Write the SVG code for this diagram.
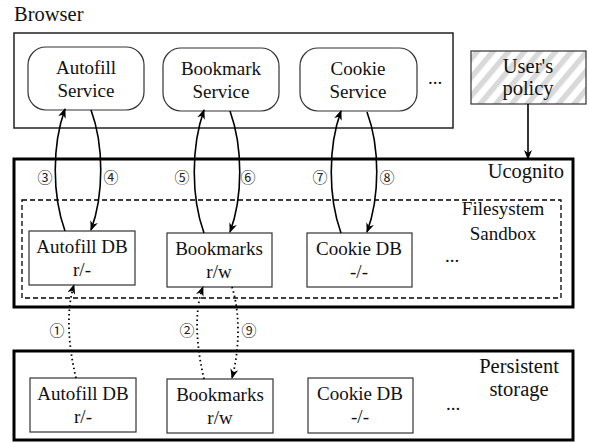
<svg xmlns="http://www.w3.org/2000/svg" width="589" height="443" viewBox="0 0 589 443">
<defs>
<pattern id="hatch" patternUnits="userSpaceOnUse" width="12" height="12" patternTransform="rotate(40)">
<rect x="0" y="0" width="12" height="12" fill="#ffffff"/>
<rect x="0" y="0" width="5.5" height="12" fill="#d9d9d9"/>
</pattern>
<marker id="ah" viewBox="0 0 10 10" refX="9" refY="5" markerWidth="10" markerHeight="10" markerUnits="userSpaceOnUse" orient="auto">
<path d="M0,1 L10,5 L0,9 L3,5 Z" fill="#000"/>
</marker>
</defs>
<style>
text{fill:#111;font-family:"Liberation Serif","Times New Roman",serif;}
.lbl{font-size:19px;text-anchor:middle;}
.big{font-size:20.5px;}
.num{font-size:15px;text-anchor:middle;fill:#222;font-family:"Noto Sans CJK JP","DejaVu Sans",sans-serif;}
.svc{fill:#fff;stroke:#333;stroke-width:1.2;}
.db{fill:#fff;stroke:#333;stroke-width:1.2;}
.thick{fill:none;stroke:#000;stroke-width:3;}
.solid{fill:none;stroke:#000;stroke-width:1.6;}
.dot{fill:none;stroke:#000;stroke-width:1.8;stroke-dasharray:1.5 3;}
</style>

<g id="browser">
<text x="14" y="21" class="big">Browser</text>
<rect x="14" y="33" width="439" height="95" fill="none" stroke="#222" stroke-width="1.5"/>
<text x="435" y="84" class="lbl">...</text>
</g>

<g id="autofill-service">
<rect class="svc" x="28" y="47" width="116" height="63" rx="18"/>
<text class="lbl" x="86" y="74">Autofill</text>
<text class="lbl" x="86" y="97">Service</text>
</g>
<g id="bookmark-service">
<rect class="svc" x="163" y="48" width="116" height="63" rx="18"/>
<text class="lbl" x="221" y="75">Bookmark</text>
<text class="lbl" x="221" y="98">Service</text>
</g>
<g id="cookie-service">
<rect class="svc" x="300" y="48" width="117" height="63" rx="18"/>
<text class="lbl" x="358" y="75">Cookie</text>
<text class="lbl" x="358" y="98">Service</text>
</g>

<g id="user-policy">
<rect x="471" y="51" width="115" height="53" fill="url(#hatch)" stroke="#333" stroke-width="1.2"/>
<text class="lbl big" x="528" y="73">User's</text>
<text class="lbl big" x="528" y="95">policy</text>
</g>

<g id="ucognito">
<rect class="thick" x="14" y="159" width="559" height="148"/>
<text x="564" y="178" class="big" text-anchor="end">Ucognito</text>
</g>

<g id="sandbox">
<rect x="22" y="200" width="539" height="98" fill="none" stroke="#000" stroke-width="1.3" stroke-dasharray="5 3"/>
<text class="lbl" x="503" y="215">Filesystem</text>
<text class="lbl" x="503" y="240">Sandbox</text>
<text class="lbl" x="452" y="262">...</text>
</g>

<g id="sandbox-autofill-db">
<rect class="db" x="29" y="231" width="106" height="54"/>
<text class="lbl" x="82" y="253">Autofill DB</text>
<text class="lbl" x="82" y="276">r/-</text>
</g>
<g id="sandbox-bookmarks">
<rect class="db" x="167" y="233" width="105" height="54"/>
<text class="lbl" x="219" y="255">Bookmarks</text>
<text class="lbl" x="219" y="278">r/w</text>
</g>
<g id="sandbox-cookie-db">
<rect class="db" x="307" y="233" width="105" height="54"/>
<text class="lbl" x="359" y="255">Cookie DB</text>
<text class="lbl" x="359" y="278">-/-</text>
</g>

<g id="persistent">
<rect class="thick" x="14" y="351" width="559" height="89"/>
<text class="lbl big" x="519" y="373">Persistent</text>
<text class="lbl big" x="519" y="396">storage</text>
<text class="lbl" x="453" y="410">...</text>
</g>

<g id="persistent-autofill-db">
<rect class="db" x="30" y="378" width="106" height="54"/>
<text class="lbl" x="83" y="400">Autofill DB</text>
<text class="lbl" x="83" y="423">r/-</text>
</g>
<g id="persistent-bookmarks">
<rect class="db" x="167" y="379" width="106" height="54"/>
<text class="lbl" x="220" y="401">Bookmarks</text>
<text class="lbl" x="220" y="424">r/w</text>
</g>
<g id="persistent-cookie-db">
<rect class="db" x="308" y="378" width="105" height="55"/>
<text class="lbl" x="360" y="400">Cookie DB</text>
<text class="lbl" x="360" y="423">-/-</text>
</g>

<g id="connectors">
<path class="solid" d="M65,231 C52,195 52,145 65,109" marker-end="url(#ah)"/>
<path class="solid" d="M91,110 C104,145 104,195 91,230" marker-end="url(#ah)"/>
<path class="solid" d="M204,233 C191,197 191,147 204,110" marker-end="url(#ah)"/>
<path class="solid" d="M230,111 C243,147 243,197 230,232" marker-end="url(#ah)"/>
<path class="solid" d="M341,233 C328,197 328,147 341,111" marker-end="url(#ah)"/>
<path class="solid" d="M367,112 C380,147 380,197 367,232" marker-end="url(#ah)"/>
<path class="solid" d="M528,104 L528,159" marker-end="url(#ah)"/>
<path class="dot" d="M76,378 C68,345 66,310 74,285" marker-end="url(#ah)"/>
<path class="dot" d="M204,379 C196,345 194,310 203,287" marker-end="url(#ah)"/>
<path class="dot" d="M232,287 C240,312 240,348 232,378" marker-end="url(#ah)"/>
<text class="num" x="45" y="183">③</text>
<text class="num" x="111" y="183">④</text>
<text class="num" x="182" y="183">⑤</text>
<text class="num" x="248" y="183">⑥</text>
<text class="num" x="320" y="183">⑦</text>
<text class="num" x="387" y="183">⑧</text>
<text class="num" x="57" y="336">①</text>
<text class="num" x="187" y="336">②</text>
<text class="num" x="249" y="336">⑨</text>
</g>
</svg>
